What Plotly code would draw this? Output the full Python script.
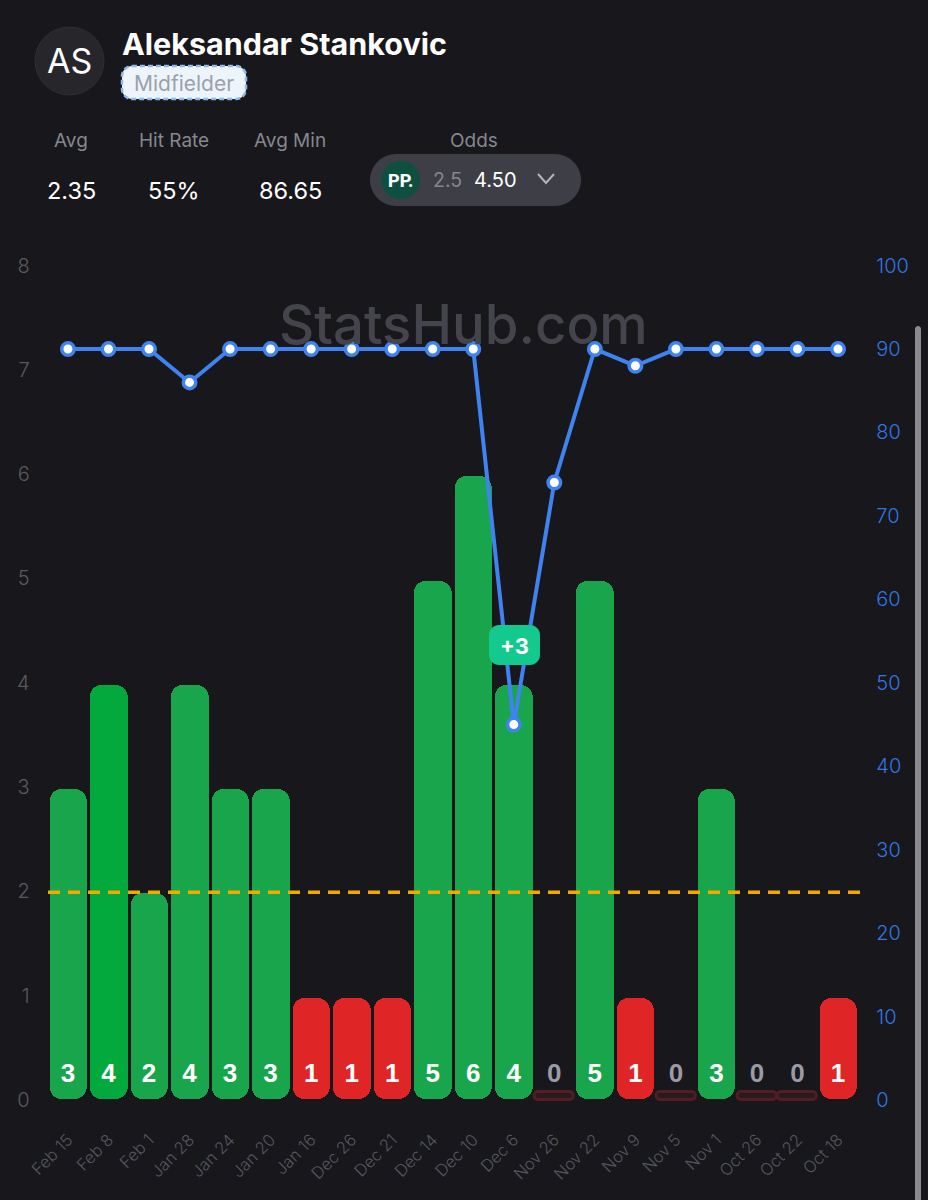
import plotly.graph_objects as go

# ---- data ----
dates = ["Feb 15", "Feb 8", "Feb 1", "Jan 28", "Jan 24", "Jan 20", "Jan 16", "Dec 26", "Dec 21", "Dec 14",
         "Dec 10", "Dec 6", "Nov 26", "Nov 22", "Nov 9", "Nov 5", "Nov 1", "Oct 26", "Oct 22", "Oct 18"]
shots = [3, 4, 2, 4, 3, 3, 1, 1, 1, 5, 6, 4, 0, 5, 1, 0, 3, 0, 0, 1]
minutes = [90, 90, 90, 86, 90, 90, 90, 90, 90, 90, 90, 45, 74, 90, 88, 90, 90, 90, 90, 90]
line_value = 2
highlight_date = "Feb 8"
left_ticks = [0, 1, 2, 3, 4, 5, 6, 7, 8]
right_ticks = [0, 10, 20, 30, 40, 50, 60, 70, 80, 90, 100]

# ---- palette ----
BG = "#17171c"
GREEN = "#18a54c"
GREEN_HI = "#03a93d"
RED = "#df2525"
BLUE = "#3f83f0"
FONT = "Inter"
AXIS_FONT = "Inter"

W, H = 928, 1200


def X(px):
    return px / W


def Y(py):
    return 1 - py / H


def rounded(x0, y0, x1, y1, r):
    """SVG path of a rounded rectangle, from page pixels to paper coordinates."""
    p = lambda x, y: f"{X(x):.5f},{Y(y):.5f}"
    k = r * 0.45
    return (f"M{p(x0 + r, y0)} L{p(x1 - r, y0)} C{p(x1 - k, y0)} {p(x1, y0 + k)} {p(x1, y0 + r)} "
            f"L{p(x1, y1 - r)} C{p(x1, y1 - k)} {p(x1 - k, y1)} {p(x1 - r, y1)} "
            f"L{p(x0 + r, y1)} C{p(x0 + k, y1)} {p(x0, y1 - k)} {p(x0, y1 - r)} "
            f"L{p(x0, y0 + r)} C{p(x0, y0 + k)} {p(x0 + k, y0)} {p(x0 + r, y0)} Z")


def pill(x0, y0, x1, y1, r, fill, line=None, dash=None, width=0):
    return dict(type="path", xref="paper", yref="paper", path=rounded(x0, y0, x1, y1, r),
                fillcolor=fill, line=dict(color=line or fill, width=width, dash=dash or "solid"))


def label(x, y, text, size, color, weight=400, family=FONT, anchor="center"):
    return dict(xref="paper", yref="paper", x=X(x), y=Y(y), text=text, showarrow=False,
                xanchor=anchor, yanchor="middle",
                font=dict(family=family, size=size, color=color, weight=weight))


fig = go.Figure()

# Bars start from a small lift above the axis, which also rounds their feet.
LIFT = 0.025
played = [(d, v) for d, v in zip(dates, shots) if v > 0]
fig.add_trace(go.Bar(
    x=[d for d, _ in played], y=[v - LIFT for _, v in played], base=[LIFT] * len(played), width=0.925,
    marker=dict(color=[GREEN_HI if d == highlight_date else (GREEN if v >= line_value else RED) for d, v in played],
                cornerradius=12, line=dict(width=0)),
    hoverinfo="skip", showlegend=False))

# Games without a shot get a thin dark-red stub.
empty = [d for d, v in zip(dates, shots) if v == 0]
STUB_BASE, STUB_HEIGHT = 0.02, 0.08
fig.add_trace(go.Bar(
    x=empty, y=[STUB_HEIGHT] * len(empty), base=[STUB_BASE] * len(empty), width=0.96,
    marker=dict(color="#2a191d", cornerradius=4, line=dict(color="#521d23", width=3)),
    hoverinfo="skip", showlegend=False))

# Value labels along the foot of the bars.
fig.add_trace(go.Scatter(x=dates, y=[0.255] * len(dates), mode="text", text=[str(v) for v in shots],
                         textposition="middle center",
                         textfont=dict(family="Liberation Sans", size=26, weight=700,
                                       color=["#9b9ba6" if v == 0 else "#ffffff" for v in shots]),
                         hoverinfo="skip", showlegend=False))

# Minutes played, on the right-hand axis.
fig.add_trace(go.Scatter(x=dates, y=minutes, yaxis="y2", mode="lines+markers",
                         line=dict(color=BLUE, width=4),
                         marker=dict(size=12.5, color="#ffffff", line=dict(color=BLUE, width=3.5)),
                         hoverinfo="skip", showlegend=False))

shapes = [
    # betting line
    dict(type="line", xref="paper", yref="y", x0=X(48), x1=X(860), y0=line_value + 0.01, y1=line_value + 0.01,
         line=dict(color="#f2a900", width=3.5, dash="12px,8px")),
    # "+3" badge
    pill(489, 625, 540, 665, 10, "#14c98e"),
    # scroll bar
    pill(915, 326, 921, 1210, 3, "#8b8b8d"),
    # header: avatar
    dict(type="circle", xref="paper", yref="paper", x0=X(35), x1=X(104), y0=Y(95), y1=Y(27),
         fillcolor="#26262b", line=dict(color="#2e2e33", width=1)),
    # header: position tag
    pill(122, 66, 246, 99, 10, "#eef4fc", "#8db9ef", "5px,3px", 2.5),
    # header: odds selector
    pill(370, 154, 581, 206, 26, "#3e3f46"),
    dict(type="circle", xref="paper", yref="paper", x0=X(381), x1=X(420), y0=Y(199), y1=Y(161),
         fillcolor="#0e5040", line=dict(width=0)),
    dict(type="path", xref="paper", yref="paper",
         path=f"M{X(538)},{Y(174)} L{X(546)},{Y(183)} L{X(554)},{Y(174)}",
         line=dict(color="#b4b5ba", width=2)),
]

annotations = [
    label(463, 324, "StatsHub.com", 54.5, "#44454c", 500),
    label(514, 646, "+3", 22, "#ffffff", 700),
    label(69, 61, "AS", 34, "#ffffff", 400),
    label(120, 44, "Aleksandar Stankovic", 30.5, "#ffffff", 700, anchor="left"),
    label(184, 83, "Midfielder", 21, "#9aa1aa", 400),
    label(71, 141, "Avg", 19, "#86878d"),
    label(174, 141, "Hit Rate", 19, "#86878d"),
    label(290, 141, "Avg Min", 19, "#86878d"),
    label(474, 141, "Odds", 19, "#86878d"),
    label(71, 190, "2.35", 23.5, "#ffffff"),
    label(174, 190, "55%", 23.5, "#ffffff"),
    label(290, 190, "86.65", 23.5, "#ffffff"),
    label(400, 180, "PP.", 18, "#ffffff", 800, "Roboto"),
    label(447, 180, "2.5", 19.5, "#86878d"),
    label(496, 180, "4.50", 20, "#ffffff"),
]

# The plot area reaches a little above the top tick so that 8 and 100 stay in range.
PX_PER_UNIT = 104.3
ZERO_PX = 1102
TOP_PX = 250
y_top = (ZERO_PX - TOP_PX) / PX_PER_UNIT
y2_bottom = (1100 - ZERO_PX) / (PX_PER_UNIT / 12.5)
y2_top = (1100 - TOP_PX) / (PX_PER_UNIT / 12.5)
TICK_SHIFT = 0.02

fig.update_layout(
    width=W, height=H, autosize=False,
    margin=dict(l=0, r=0, t=0, b=0, pad=0, autoexpand=False),
    paper_bgcolor=BG, plot_bgcolor=BG,
    barmode="overlay", bargap=0,
    showlegend=False,
    shapes=shapes, annotations=annotations,
    xaxis=dict(domain=[X(47.7), X(858.3)], type="category", categoryorder="array", categoryarray=dates,
               range=[-0.5, 19.5], tickangle=-45, showgrid=False, zeroline=False, showline=False,
               ticks="", ticklabelstandoff=24, fixedrange=True,
               tickfont=dict(family=AXIS_FONT, size=16.5, color="#55565c", weight=300)),
    yaxis=dict(domain=[Y(ZERO_PX), Y(TOP_PX)], range=[0, y_top], showgrid=False, zeroline=False, showline=False,
               ticks="", tickmode="array", tickvals=[t + TICK_SHIFT for t in left_ticks],
               ticktext=[str(t) for t in left_ticks], ticklabelstandoff=17, fixedrange=True,
               tickfont=dict(family=AXIS_FONT, size=20, color="#5a5b60", weight=300)),
    yaxis2=dict(overlaying="y", side="right", range=[y2_bottom, y2_top], showgrid=False, zeroline=False,
                showline=False, ticks="", tickmode="array", tickvals=right_ticks,
                ticktext=[str(t) for t in right_ticks], ticklabelstandoff=17, fixedrange=True,
                tickfont=dict(family=AXIS_FONT, size=20, color="#3275e0", weight=300)),
)

fig.write_html("out.html", config=dict(displayModeBar=False))
